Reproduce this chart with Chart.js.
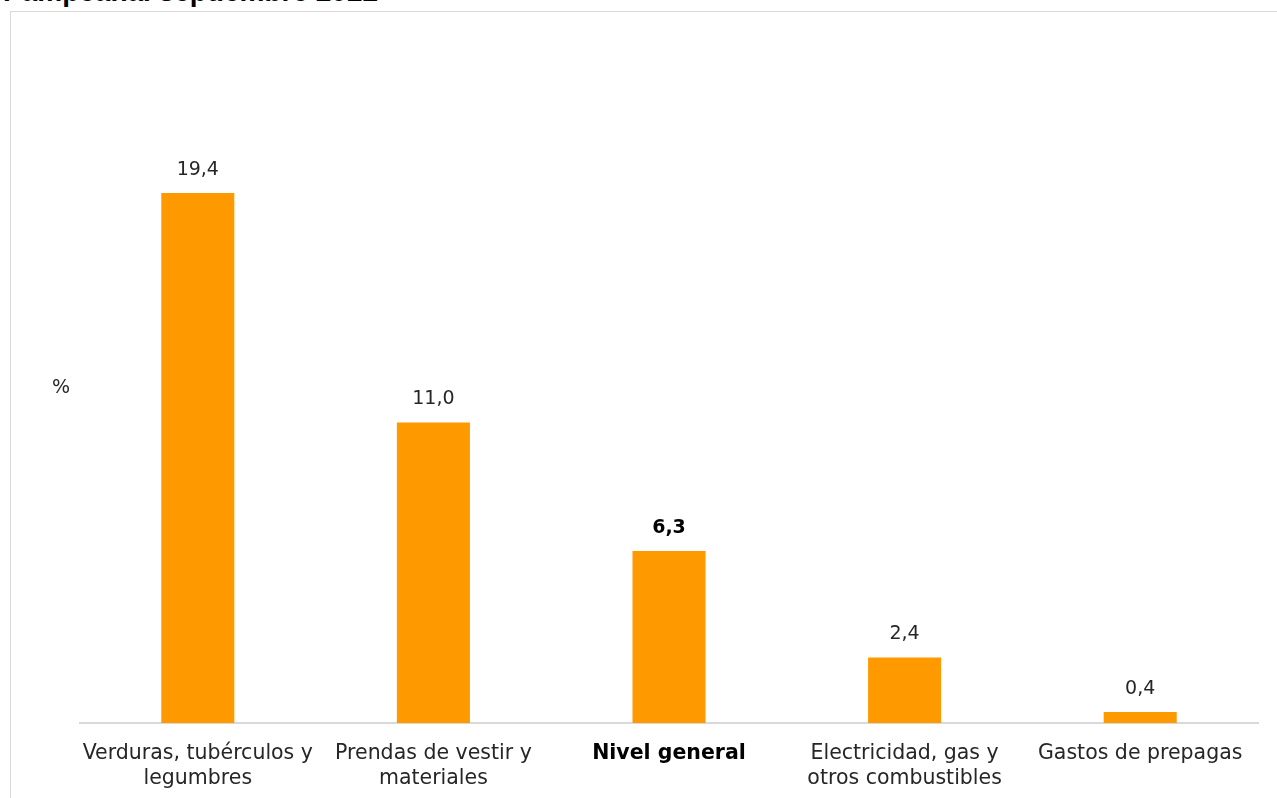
<!DOCTYPE html>
<html>
<head>
<meta charset="utf-8">
<script src="https://cdn.jsdelivr.net/npm/chart.js@4"></script>
<style>
  html, body { margin: 0; padding: 0; background: #fff; overflow: hidden; }
  #titulo {
    position: absolute; left: 3px; top: -24px;
    font: bold 28px "Liberation Sans", Arial, sans-serif; color: #000; white-space: nowrap;
  }
  #marco {
    position: absolute; left: 10px; top: 11px; width: 1300px; height: 900px;
    border: 1px solid #d9d9d9; box-sizing: border-box;
  }
  #grafico { position: absolute; left: 0; top: 0; }
</style>
</head>
<body>
<div id="titulo">Pampeana. septiembre 2022</div>
<div id="marco"></div>
<canvas id="grafico" width="1277" height="798"></canvas>
<script>
const categorias = [
  ['Verduras, tubérculos y', 'legumbres'],
  ['Prendas de vestir y', 'materiales'],
  'Nivel general',
  ['Electricidad, gas y', 'otros combustibles'],
  'Gastos de prepagas'
];
const valores = [19.4, 11.0, 6.3, 2.4, 0.4];
const indiceGeneral = 2;

const fuente = '"DejaVu Sans", sans-serif';

// etiquetas sobre cada barra y el "%" del eje
const etiquetasBarras = {
  id: 'etiquetasBarras',
  afterDatasetsDraw(chart) {
    const ctx = chart.ctx;
    const meta = chart.getDatasetMeta(0);
    ctx.save();
    ctx.textAlign = 'center';
    ctx.textBaseline = 'alphabetic';
    meta.data.forEach((barra, i) => {
      const esGeneral = i === indiceGeneral;
      ctx.font = (esGeneral ? 'bold ' : '') + '19px ' + fuente;
      ctx.fillStyle = esGeneral ? '#000' : '#262626';
      ctx.fillText(valores[i].toFixed(1).replace('.', ','), barra.x, barra.y - 18);
    });
    ctx.font = '19px ' + fuente;
    ctx.fillStyle = '#262626';
    ctx.textAlign = 'left';
    ctx.textBaseline = 'middle';
    ctx.fillText('%', 52, 388);
    ctx.restore();
  }
};

new Chart(document.getElementById('grafico'), {
  type: 'bar',
  data: {
    labels: categorias,
    datasets: [{
      data: valores,
      backgroundColor: '#ff9900',
      categoryPercentage: 1,
      barPercentage: 0.31
    }]
  },
  options: {
    responsive: false,
    animation: false,
    layout: { padding: { left: 80, right: 19, top: 40, bottom: 0 } },
    plugins: { legend: { display: false }, tooltip: { enabled: false } },
    scales: {
      y: { display: false, min: 0, max: 25 },
      x: {
        afterFit(s) { s.height = 75; },
        grid: { display: false, drawTicks: false },
        border: { display: true, color: '#d9d9d9', width: 2 },
        ticks: {
          padding: 18,
          maxRotation: 0,
          autoSkip: false,
          color: c => c.index === indiceGeneral ? '#000' : '#262626',
          font: c => ({
            family: fuente,
            size: 20.5,
            weight: c.index === indiceGeneral ? 'bold' : 'normal',
            lineHeight: 1.22
          })
        }
      }
    }
  },
  plugins: [etiquetasBarras]
});
</script>
</body>
</html>
